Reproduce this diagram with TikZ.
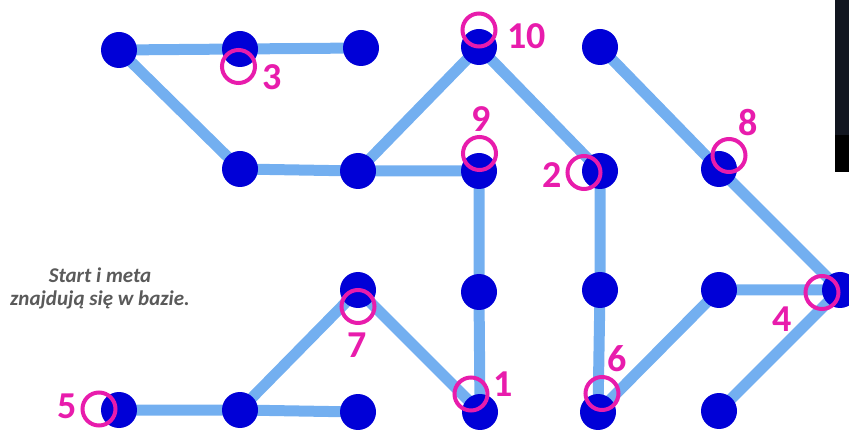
\documentclass[tikz,border=0pt]{standalone}
\usepackage{fontspec}
\setmainfont{Carlito}
\usetikzlibrary{positioning, backgrounds}
\definecolor{dotblue}{RGB}{0,0,215}
\definecolor{edgeblue}{RGB}{115,175,240}
\definecolor{pink}{RGB}{232,28,172}
\definecolor{textgray}{RGB}{90,90,90}
\definecolor{screen}{RGB}{18,22,32}

\begin{document}
\begin{tikzpicture}[x=1pt, y=-1pt,
    dot/.style={circle, fill=dotblue, minimum size=36pt, inner sep=0pt},
    edge/.style={edgeblue, line width=11pt},
    ring/.style={circle, draw=pink, line width=4pt, minimum size=33pt, inner sep=0pt},
    num/.style={pink, font=\fontsize{38}{38}\selectfont\bfseries, inner sep=0pt}]
    \useasboundingbox (0,0) rectangle (849,430);

    % ciemny pasek ekranu po prawej
    \fill[screen] (835,0) rectangle (849,135);
    \fill[black] (835,135) rectangle (849,172);

    % punkty - rzad 1
    \node[dot] (a) at (119,50) {};
    \node[dot] (b) at (240,49) {};
    \node[dot] (c) at (361,48) {};
    \node[dot] (d) at (479,47) {};
    \node[dot] (e) at (600,47) {};
    % rzad 2
    \node[dot] (f) at (240,169) {};
    \node[dot] (g) at (358,171) {};
    \node[dot] (h) at (479,171) {};
    \node[dot] (i) at (600,171) {};
    \node[dot] (j) at (719,169) {};
    % rzad 3
    \node[dot] (k) at (358,290) {};
    \node[dot] (l) at (479,292) {};
    \node[dot] (m) at (600,290) {};
    \node[dot] (n) at (719,290) {};
    \node[dot] (o) at (840,290) {};
    % rzad 4
    \node[dot] (p) at (119,410) {};
    \node[dot] (q) at (240,410) {};
    \node[dot] (r) at (358,412) {};
    \node[dot] (s) at (480,412) {};
    \node[dot] (t) at (598,412) {};
    \node[dot] (u) at (719,411) {};

    % trasy (pod punktami)
    \begin{scope}[on background layer]
        \draw[edge] (a.center) -- (b.center) -- (c.center);
        \draw[edge] (a.center) -- (f.center) -- (g.center) -- (h.center);
        \draw[edge] (g.center) -- (d.center) -- (i.center) -- (m.center) -- (t.center) -- (n.center) -- (o.center) -- (u.center);
        \draw[edge] (e.center) -- (j.center) -- (o.center);
        \draw[edge] (h.center) -- (l.center) -- (s.center) -- (k.center) -- (q.center);
        \draw[edge] (p.center) -- (q.center) -- (r.center);
    \end{scope}

    % punkty kontrolne
    \node[ring] (cp1) at (471,394) {};
    \node[num] (l1) at (503.5,384) {1};
    \node[ring] (cp2) at (584,172.5) {};
    \node[num] (l2) at (552.5,175) {2};
    \node[ring] (cp3) at (238.5,66.5) {};
    \node[num] (l3) at (272.5,77.5) {3};
    \node[ring] (cp4) at (822,292.5) {};
    \node[num] (l4) at (782.5,319) {4};
    \node[ring] (cp5) at (99,409) {};
    \node[num] (l5) at (67,406.5) {5};
    \node[ring] (cp6) at (602,393.5) {};
    \node[num] (l6) at (617.5,359) {6};
    \node[ring] (cp7) at (358,306.5) {};
    \node[num] (l7) at (357.5,345) {7};
    \node[ring] (cp8) at (729,155.5) {};
    \node[num] (l8) at (748.5,122.5) {8};
    \node[ring] (cp9) at (479.5,153.5) {};
    \node[num] (l9) at (481,119) {9};
    \node[ring] (cp10) at (479,30) {};
    \node[num] (l10) at (526.5,36.5) {10};

    % opis
    \node[textgray, align=center, inner sep=0pt,
          font=\fontsize{21}{23}\selectfont\bfseries\itshape] (note) at (100,288)
          {Start i meta\\znajdują się w bazie.};
\end{tikzpicture}
\end{document}
